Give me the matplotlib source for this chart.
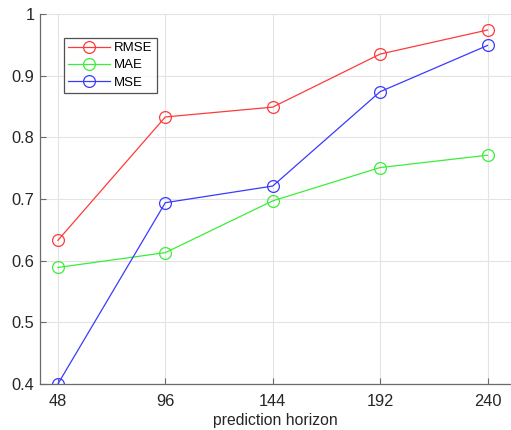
import matplotlib
matplotlib.use('Agg')
import matplotlib.pyplot as plt

horizons = [48, 96, 144, 192, 240]
rmse = [0.633, 0.833, 0.849, 0.935, 0.974]
mae = [0.589, 0.613, 0.697, 0.751, 0.771]
mse = [0.400, 0.694, 0.721, 0.874, 0.949]

plt.rcParams['font.family'] = ['Liberation Sans', 'DejaVu Sans']

fig = plt.figure(figsize=(5.11, 4.30), dpi=100)
ax = fig.add_axes([40 / 511, 46 / 430, 471 / 511, 370 / 430])

# MATLAB-like look: thin lines with open circles
style = dict(lw=0.9, marker='o', ms=8.5, mfc='none', mew=0.9)
ax.plot(horizons, rmse, color='#ff3a3a', label='RMSE', **style)
ax.plot(horizons, mae, color='#3aee3a', label='MAE', **style)
ax.plot(horizons, mse, color='#3a3aff', label='MSE', **style)

ax.set_xlim(40, 250.5)
ax.set_ylim(0.4, 1.0)
ax.set_xticks(horizons)
ax.set_yticks([0.4, 0.5, 0.6, 0.7, 0.8, 0.9, 1.0])
ax.set_yticklabels(['0.4', '0.5', '0.6', '0.7', '0.8', '0.9', '1'])
ax.set_xlabel('prediction horizon', fontsize=11.3, color='#262626', labelpad=3)

ax.grid(True, color='#e3e3e3', lw=0.8)
ax.set_axisbelow(True)
for s in ['top', 'right']:
    ax.spines[s].set_visible(False)
for s in ['left', 'bottom']:
    ax.spines[s].set_color('#6a6a6a')
    ax.spines[s].set_linewidth(0.9)
ax.tick_params(direction='in', length=4, width=0.8, colors='#6a6a6a',
               labelcolor='#262626', labelsize=11.8)
ax.tick_params(axis='x', pad=7)
ax.tick_params(axis='y', pad=4)

leg = ax.legend(loc='upper left', bbox_to_anchor=(0.051, 0.935), fontsize=9.5,
                frameon=True, fancybox=False, handlelength=3.2,
                borderaxespad=0, borderpad=0.3, labelspacing=0.38,
                handletextpad=0.3)
leg.get_frame().set_edgecolor('#262626')
leg.get_frame().set_linewidth(0.9)

fig.savefig('out.png', dpi=100)
